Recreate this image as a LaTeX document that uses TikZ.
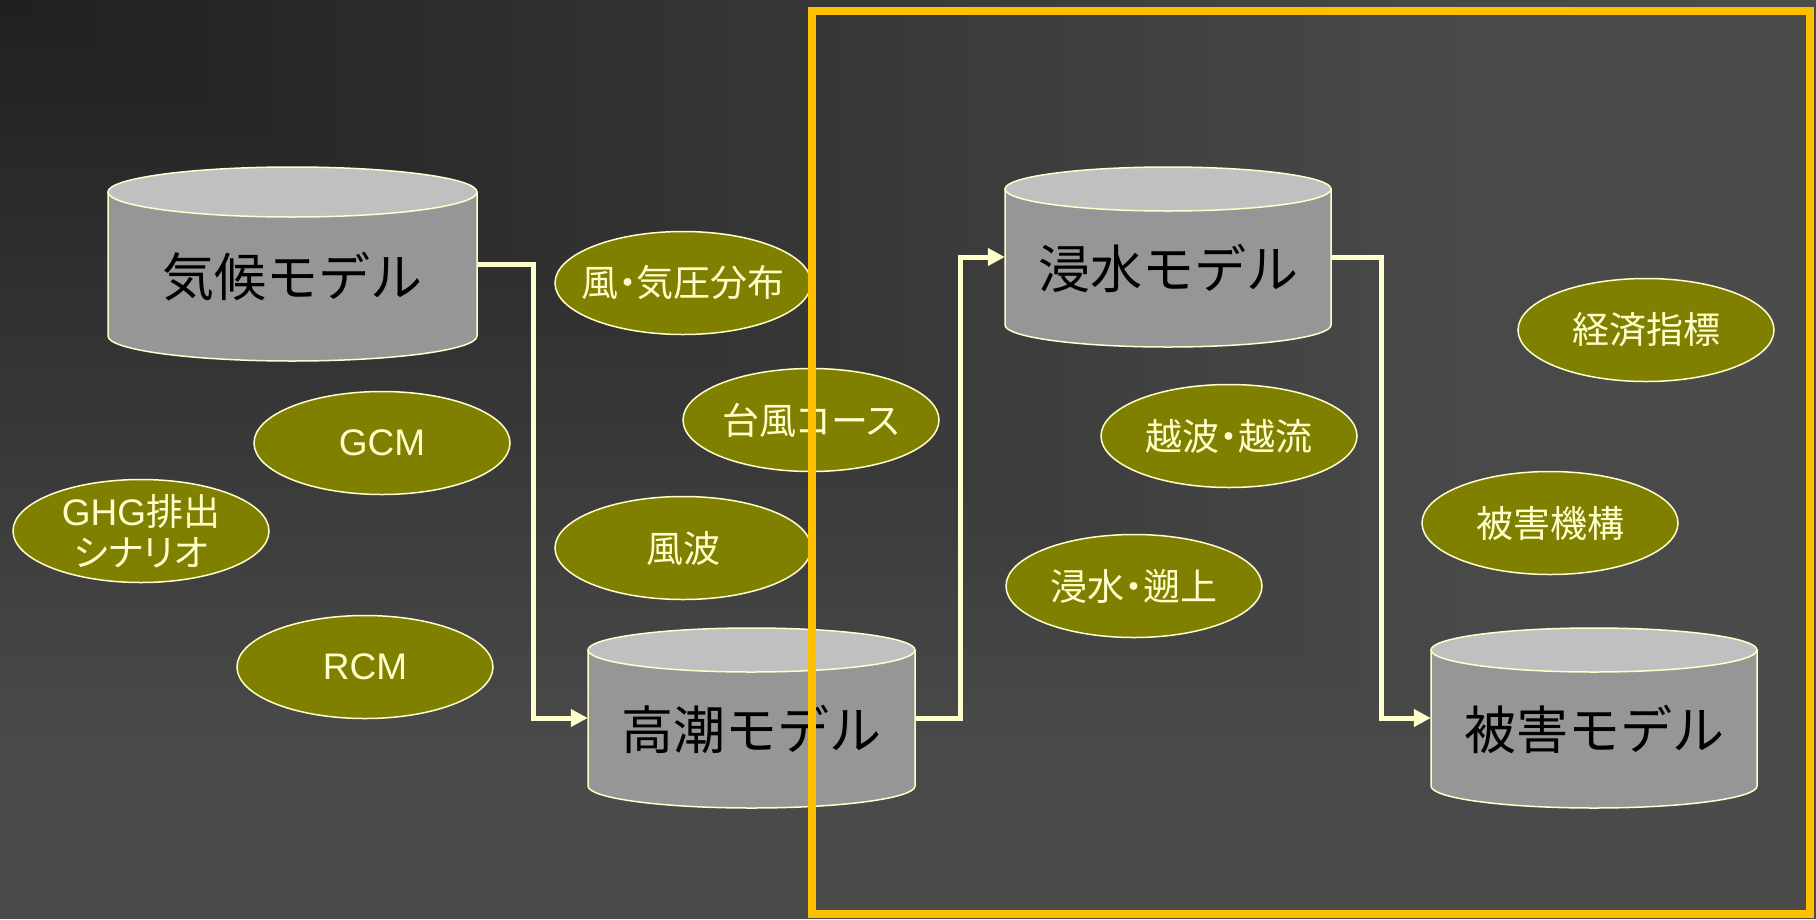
\documentclass[tikz,border=0pt]{standalone}
\usepackage{fontspec}
\newfontfamily\cjk{Noto Sans CJK JP}
\newfontfamily\cjkp[RawFeature=+palt]{Noto Sans CJK JP}
\newfontfamily\lat{Liberation Sans}
\usetikzlibrary{shapes.geometric,arrows.meta}
\definecolor{ovfill}{HTML}{808000}
\definecolor{cream}{HTML}{FFFFCC}
\definecolor{frameyellow}{HTML}{FFC000}
\definecolor{cyltopc}{HTML}{C0C0C0}
\definecolor{cylbodyc}{HTML}{969696}
\tikzset{
  cylbody/.style={fill=cylbodyc, draw=cream, line width=1.5pt},
  cyltop/.style={fill=cyltopc, draw=cream, line width=1.5pt},
  cylanchor/.style={rectangle, inner sep=0pt, draw=none},
  cyltext/.style={font=\cjk\fontsize{52}{62}\selectfont, text=black, inner sep=0pt},
  tagell/.style={ellipse, fill=ovfill, draw=cream, line width=1.5pt,
    minimum width=256pt, minimum height=103pt, inner sep=0pt},
  tagtext/.style={text=cream, inner sep=0pt,
    font=\cjkp\fontsize{37}{41}\selectfont, align=center},
  linkarrow/.style={draw=cream, line width=5pt, -{Triangle[length=17pt,width=17pt]}},
  yframe/.style={draw=frameyellow, line width=8pt},
}
% #1 name, #2 left, #3 right, #4 top, #5 bottom, #6 ry, #7 text
\newcommand{\mycyl}[7]{%
  \pgfmathsetmacro{\cylcx}{(#2+#3)/2}%
  \pgfmathsetmacro{\cylrx}{(#3-#2)/2}%
  \pgfmathsetmacro{\cylyt}{-(#4+#6)}%
  \pgfmathsetmacro{\cylyb}{-(#5-#6)}%
  \pgfmathsetmacro{\cylcy}{-(#4+#5)/2}%
  \pgfmathsetmacro{\cylty}{-((#4+#6)+#5)/2}%
  \pgfmathsetmacro{\cylw}{#3-#2}%
  \pgfmathsetmacro{\cylh}{#5-#4}%
  \filldraw[cylbody] (#2,\cylyt) -- (#2,\cylyb)
     arc[start angle=180,end angle=360,x radius=\cylrx,y radius=#6] -- (#3,\cylyt) -- cycle;
  \filldraw[cyltop] (\cylcx,\cylyt) ellipse[x radius=\cylrx, y radius=#6];
  \node[cylanchor, minimum width=\cylw*1pt, minimum height=\cylh*1pt] (#1) at (\cylcx,\cylcy) {};
  \node[cyltext] (#1-text) at (\cylcx,\cylty) {#7};
}
% #1 name, #2 x, #3 y, #4 text
\newcommand{\mytag}[4]{%
  \node[tagell] (#1) at (#2,-#3) {};
  \node[tagtext] (#1-text) at (#1.center) {#4};
}
\begin{document}
\begin{tikzpicture}[x=1pt,y=1pt]
  \useasboundingbox (0,0) rectangle (1816,-919);
  % background: rectangular gradient from the top-left corner
  \foreach \i in {60,59,...,1}{
    \pgfmathsetmacro{\bgt}{\i/60}
    \pgfmathtruncatemacro{\bgv}{\bgt<=0.8 ? 32+51.25*\bgt : 73+15*(\bgt-0.8)}
    \definecolor{bgstep}{RGB}{\bgv,\bgv,\bgv}
    \fill[bgstep] (0,0) rectangle (1816*\bgt,-919*\bgt);
  }

  % ellipses
  \mytag{kazekiatsu}{683}{283}{風・気圧分布}
  \mytag{taifu}{811}{420}{台風コース}
  \mytag{fuha}{683}{548}{風波}
  \mytag{gcm}{382}{443}{{\lat GCM}}
  \mytag{ghg}{141}{531}{{\lat GHG}排出\\シナリオ}
  \mytag{rcm}{365}{667}{{\lat RCM}}
  \mytag{etsuha}{1229}{436}{越波・越流}
  \mytag{sojo}{1134}{586}{浸水・遡上}
  \mytag{keizai}{1646}{330}{経済指標}
  \mytag{higaikiko}{1550}{523}{被害機構}

  % cylinders
  \mycyl{kiko}{108}{477}{167}{361}{25}{気候モデル}
  \mycyl{takashio}{588}{915}{628}{808}{22}{高潮モデル}
  \mycyl{shinsui}{1005}{1331}{167}{347}{22}{浸水モデル}
  \mycyl{higai}{1431}{1757}{628}{808}{22}{被害モデル}

  % connectors
  \coordinate (j1) at (533,0);
  \coordinate (j2) at (960,0);
  \coordinate (j3) at (1381,0);
  \draw[linkarrow] (kiko.east) -- (kiko.east -| j1) |- (takashio.west);
  \draw[linkarrow] (takashio.east) -- (takashio.east -| j2) |- (shinsui.west);
  \draw[linkarrow] (shinsui.east) -- (shinsui.east -| j3) |- (higai.west);

  % frame
  \draw[yframe] (812,-11) rectangle (1810,-914);
\end{tikzpicture}
\end{document}
